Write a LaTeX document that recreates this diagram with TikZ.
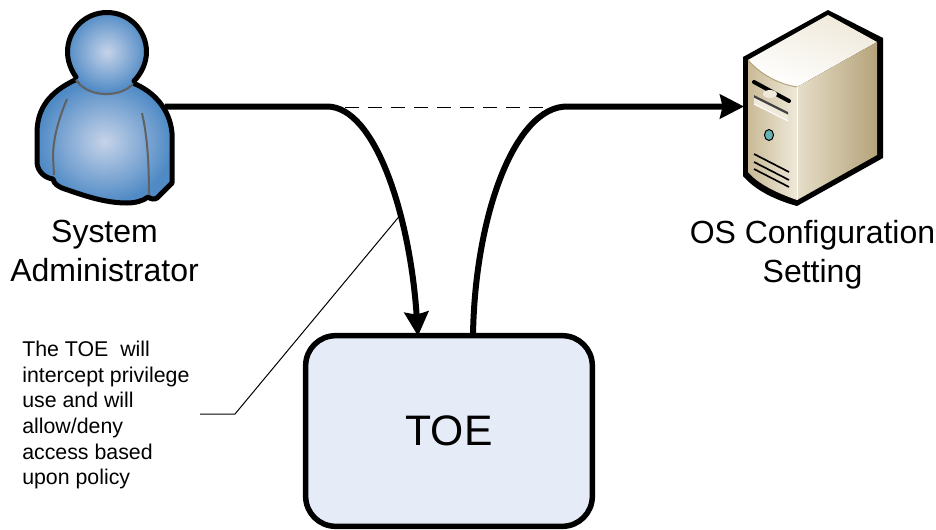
\documentclass[tikz,border=0pt]{standalone}
\usepackage{fontspec}
\setmainfont{Liberation Sans}
\usetikzlibrary{arrows.meta}
\definecolor{toefill}{HTML}{E6ECF7}
\definecolor{skinout}{HTML}{4F8AC5}
\definecolor{skinin}{HTML}{C6D3E9}
\definecolor{creamd}{HTML}{B5A37A}
\definecolor{creamm}{HTML}{C9BA96}
\definecolor{creaml}{HTML}{EFE9DA}
\definecolor{creamf}{HTML}{E6DEC9}
\tikzset{
  flow/.style={line width=4.5pt, -{Stealth[length=18pt,width=18pt,inset=2pt]}},
  thinline/.style={line width=0.75pt},
  crease/.style={draw=black!62, line width=1.5pt},
  outline/.style={draw=black, line width=3.75pt, line join=round},
  label/.style={font=\fontsize{24}{29}\selectfont, align=center, inner sep=0pt}
}
\begin{document}
\begin{tikzpicture}[x=0.75pt,y=-0.75pt]
\useasboundingbox (0,0) rectangle (936,529);

\path[outline, inner color=skinin, outer color=skinout] (75,80) .. controls (50,92) and (37,108) .. (37,133)
  -- (37,163) .. controls (38,172) and (45,178) .. (53,179)
  .. controls (54,184) and (58,186) .. (62,188)
  .. controls (85,196) and (105,203) .. (127,203)
  .. controls (135,203) and (143,201) .. (148,197)
  .. controls (151,199) and (154,200) .. (157,198)
  -- (172,183) -- (172,133) .. controls (170,110) and (155,92) .. (133,83) -- cycle;
\shade[inner color=skinin, outer color=skinout] (107,52) circle (41);
\draw[outline, line cap=round] (76,77) .. controls (71,70) and (67.5,61) .. (67.5,52)
  .. controls (67.5,30) and (85,12.5) .. (107,12.5)
  .. controls (129,12.5) and (146.5,30) .. (146.5,52)
  .. controls (146.5,63) and (141,74) .. (134,81);
\draw[crease] (76,80) .. controls (88,98) and (120,98) .. (133,84);
\draw[crease] (67,99) .. controls (58,120) and (53,140) .. (53,157) -- (54,175);
\draw[crease] (142,113) .. controls (147,135) and (149,160) .. (149,195);

\fill[black] (828,10) -- (883,38) -- (883,158) -- (797,206) .. controls (775,200) and (755,190) .. (743,176)
  -- (743,57) -- cycle;
\shade[bottom color=white, top color=creaml, shading angle=-20] (748,60) -- (828,15) -- (877,42) -- (797,87)
  .. controls (778,84) and (760,74) .. (748,60) -- cycle;
\shade[left color=creamf, right color=creamd] (797,87) -- (877,42) -- (877,155) -- (797,200) -- cycle;
\shade[left color=creamm, right color=creaml] (748,60) .. controls (760,74) and (778,84) .. (797,87)
  -- (797,200) .. controls (777,193) and (758,184) .. (748,172) -- cycle;
\draw[creamd, line width=0.75pt] (748,60) .. controls (760,74) and (778,84) .. (797,87);
\draw[white, line width=0.75pt] (797,87) -- (797,200);
\draw[black, line width=3pt, line cap=round] (754,82) -- (789,101);
\fill[creaml] (770,94) ellipse (7 and 4);
\fill[creaml] (754,95) -- (788,112) -- (788,121) -- (754,104) -- cycle;
\fill[black!75] (754,95) -- (788,112) -- (788,114.5) -- (754,97.5) -- cycle;
\draw[white, line width=0.75pt] (754,104) -- (788,121);
\fill[teal!60, draw=black, line width=0.75pt] (769,135) ellipse (4.5 and 5.5);
\foreach \vy in {154,162,169}
  \draw[black, line width=1.25pt] (754,\vy) -- (789,\vy+18);

\node[draw=black, line width=4.125pt, fill=toefill, rounded corners=22.5pt, minimum width=215pt,
  minimum height=143pt, inner sep=0pt, font=\fontsize{32}{36}\selectfont] (toe) at (449,431) {TOE};

\coordinate (admin_out) at (165,106.5);
\coordinate (admin_bend) at (327,106.5);
\coordinate (toe_in) at (418,336);
\coordinate (toe_out) at (473,335);
\coordinate (server_bend) at (567,106.5);
\coordinate (server_in) at (744,106.5);
\coordinate (note_end) at (402,213);
\coordinate (note_elbow) at (235,414);
\coordinate (note_start) at (200,414);

\draw[thinline, dash pattern=on 10.5pt off 6.75pt] (345,107) -- (560,107);
\draw[flow] (admin_out) -- (admin_bend) .. controls (375,106.5) and (410,215) .. (toe_in);
\draw[flow] (toe_out) .. controls (475,215) and (515,106.5) .. (server_bend) -- (server_in);
\draw[thinline] (note_start) -- (note_elbow) -- (note_end);

\node[label, anchor=north] (admin_l) at (104.5,220) {System\\Administrator};
\node[label, anchor=north] (server_l) at (812.5,220) {OS Configuration\\Setting};
\node[anchor=north west, inner sep=0pt, align=left, font=\fontsize{16}{19.2}\selectfont] (note) at (22,341)
  {The TOE\ \ will\\intercept privilege\\use and will\\allow/deny\\access based\\upon policy};
\end{tikzpicture}
\end{document}
